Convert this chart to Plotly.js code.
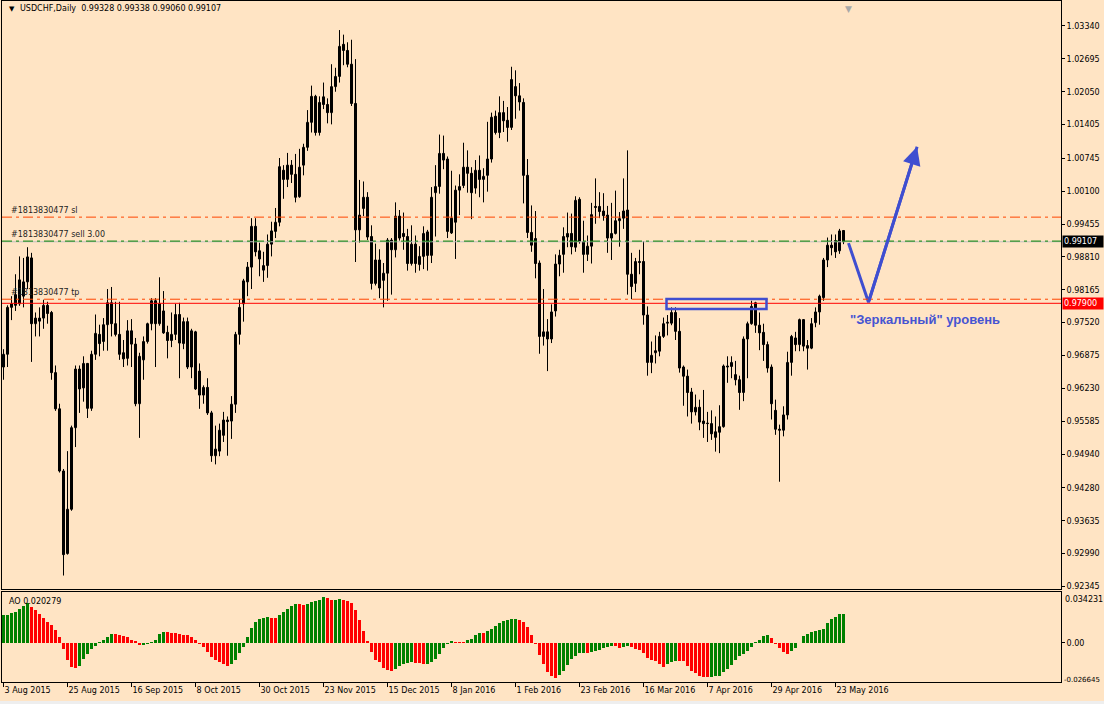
<!DOCTYPE html>
<html>
<head>
<meta charset="utf-8">
<script src="https://cdn.plot.ly/plotly-3.0.1.min.js"></script>
<style>
html,body{margin:0;padding:0;background:#EEEEEE;}
#chart{width:1104px;height:701px;}
</style>
</head>
<body>
<div id="chart"></div>
<script>
// ---------- data ----------
const dateLabels = ["3 Aug 2015","25 Aug 2015","16 Sep 2015","8 Oct 2015","30 Oct 2015","23 Nov 2015","15 Dec 2015","8 Jan 2016","1 Feb 2016","23 Feb 2016","16 Mar 2016","7 Apr 2016","29 Apr 2016","23 May 2016"];
const dateTickBars = [0,16,32,48,64,80,96,112,128,144,160,176,192,208];

const openP = [0.9665,0.9690,0.9782,0.9786,0.9789,0.9804,0.9832,0.9879,0.9750,0.9761,
0.9761,0.9786,0.9772,0.9654,0.9583,0.9461,0.9299,0.9386,0.9546,0.9661,
0.9624,0.9672,0.9584,0.9690,0.9729,0.9715,0.9748,0.9791,0.9750,0.9729,
0.9693,0.9682,0.9736,0.9710,0.9593,0.9679,0.9715,0.9750,0.9795,0.9750,
0.9775,0.9733,0.9717,0.9729,0.9768,0.9711,0.9754,0.9665,0.9734,0.9657,
0.9610,0.9625,0.9575,0.9491,0.9500,0.9531,0.9561,0.9559,0.9592,0.9729,
0.9789,0.9832,0.9861,0.9941,0.9893,0.9855,0.9864,0.9906,0.9931,0.9949,
1.0051,1.0033,1.0061,1.0043,0.9999,1.0061,1.0096,1.0145,1.0196,1.0125,
1.0195,1.0180,1.0164,1.0215,1.0235,1.0298,1.0286,1.0259,1.0182,0.9934,
0.9976,0.9998,0.9921,0.9829,0.9875,0.9835,0.9849,0.9914,0.9895,0.9961,
0.9927,0.9921,0.9868,0.9906,0.9866,0.9882,0.9930,0.9884,1.0007,1.0019,
1.0084,1.0073,0.9928,0.9949,1.0012,1.0021,1.0057,1.0045,1.0016,1.0051,
1.0033,1.0041,1.0073,1.0157,1.0125,1.0164,1.0149,1.0135,1.0215,1.0197,
1.0184,1.0041,0.9929,0.9917,0.9869,0.9725,0.9734,0.9720,0.9775,0.9867,
0.9886,0.9920,0.9927,0.9900,0.9994,0.9911,0.9886,0.9902,0.9980,0.9980,
0.9971,0.9963,0.9918,0.9927,0.9952,0.9957,0.9973,0.9847,0.9829,0.9872,
0.9872,0.9767,0.9674,0.9693,0.9696,0.9725,0.9751,0.9751,0.9772,0.9735,
0.9665,0.9647,0.9616,0.9577,0.9586,0.9559,0.9555,0.9554,0.9527,0.9537,
0.9548,0.9665,0.9666,0.9650,0.9640,0.9615,0.9720,0.9750,0.9791,0.9747,
0.9733,0.9709,0.9665,0.9580,0.9543,0.9541,0.9571,0.9674,0.9722,0.9709,
0.9758,0.9707,0.9702,0.9752,0.9773,0.9801,0.9875,0.9904,0.9913,0.9893,
0.99328];
const highP = [0.9700,0.9786,0.9804,0.9847,0.9882,0.9879,0.9900,0.9889,0.9772,0.9782,
0.9797,0.9793,0.9775,0.9668,0.9593,0.9465,0.9500,0.9550,0.9668,0.9668,
0.9686,0.9673,0.9697,0.9768,0.9748,0.9761,0.9818,0.9822,0.9793,0.9793,
0.9718,0.9757,0.9759,0.9722,0.9693,0.9725,0.9752,0.9800,0.9800,0.9841,
0.9814,0.9746,0.9772,0.9789,0.9791,0.9762,0.9762,0.9740,0.9736,0.9672,
0.9629,0.9643,0.9579,0.9550,0.9554,0.9577,0.9568,0.9608,0.9734,0.9798,
0.9838,0.9871,0.9957,0.9957,0.9909,0.9891,0.9925,0.9950,0.9977,1.0075,
1.0061,1.0085,1.0071,1.0083,1.0093,1.0103,1.0169,1.0217,1.0199,1.0196,
1.0223,1.0192,1.0259,1.0252,1.0326,1.0317,1.0302,1.0307,1.0269,1.0032,
1.0029,1.0008,0.9943,0.9907,0.9896,0.9869,0.9918,0.9918,0.9988,0.9973,
0.9968,0.9936,0.9943,0.9923,0.9902,0.9941,0.9934,1.0018,1.0061,1.0121,
1.0119,1.0078,1.0050,1.0021,1.0043,1.0105,1.0090,1.0057,1.0071,1.0080,
1.0055,1.0146,1.0164,1.0168,1.0196,1.0187,1.0175,1.0254,1.0247,1.0222,
1.0192,1.0073,0.9982,0.9971,0.9874,0.9818,0.9759,0.9788,0.9886,0.9895,
0.9939,0.9968,0.9966,1.0000,0.9998,0.9952,0.9923,0.9987,1.0035,1.0008,
1.0006,0.9981,0.9987,1.0011,0.9969,1.0035,1.0090,0.9889,0.9879,0.9895,
0.9912,0.9784,0.9715,0.9727,0.9734,0.9762,0.9767,0.9782,0.9782,0.9761,
0.9668,0.9660,0.9624,0.9611,0.9601,0.9620,0.9577,0.9580,0.9568,0.9590,
0.9670,0.9686,0.9686,0.9677,0.9648,0.9725,0.9754,0.9795,0.9793,0.9772,
0.9750,0.9715,0.9670,0.9601,0.9552,0.9588,0.9695,0.9728,0.9734,0.9760,
0.9759,0.9718,0.9761,0.9782,0.9807,0.9879,0.9919,0.9925,0.9925,0.9936,
0.99338];
const lowP = [0.9640,0.9665,0.9757,0.9775,0.9785,0.9782,0.9818,0.9675,0.9725,0.9725,
0.9740,0.9750,0.9640,0.9579,0.9458,0.9256,0.9297,0.9383,0.9508,0.9575,
0.9597,0.9565,0.9579,0.9679,0.9686,0.9697,0.9697,0.9725,0.9725,0.9679,
0.9665,0.9668,0.9665,0.9588,0.9526,0.9640,0.9711,0.9737,0.9665,0.9746,
0.9730,0.9682,0.9704,0.9718,0.9643,0.9700,0.9661,0.9643,0.9620,0.9583,
0.9593,0.9571,0.9479,0.9474,0.9490,0.9518,0.9491,0.9524,0.9575,0.9709,
0.9754,0.9804,0.9818,0.9882,0.9843,0.9832,0.9840,0.9882,0.9918,0.9941,
0.9995,1.0018,1.0026,0.9988,0.9997,1.0041,1.0089,1.0125,1.0119,1.0119,
1.0171,1.0143,1.0141,1.0205,1.0223,1.0257,1.0253,1.0177,0.9871,0.9909,
0.9961,0.9914,0.9817,0.9825,0.9800,0.9782,0.9795,0.9807,0.9880,0.9913,
0.9895,0.9854,0.9864,0.9850,0.9854,0.9857,0.9854,0.9869,0.9921,1.0005,
1.0053,0.9918,0.9926,0.9877,0.9963,1.0016,1.0007,0.9955,1.0005,0.9998,
0.9988,1.0009,1.0066,1.0121,1.0114,1.0126,1.0107,1.0130,1.0152,1.0168,
0.9986,0.9918,0.9891,0.9839,0.9691,0.9707,0.9657,0.9712,0.9764,0.9843,
0.9850,0.9900,0.9886,0.9891,0.9907,0.9850,0.9873,0.9868,0.9946,0.9957,
0.9952,0.9889,0.9875,0.9925,0.9901,0.9936,0.9807,0.9798,0.9812,0.9847,
0.9748,0.9648,0.9653,0.9672,0.9686,0.9722,0.9727,0.9747,0.9718,0.9654,
0.9589,0.9568,0.9554,0.9570,0.9541,0.9526,0.9518,0.9522,0.9499,0.9496,
0.9546,0.9634,0.9643,0.9629,0.9581,0.9598,0.9643,0.9748,0.9732,0.9698,
0.9677,0.9654,0.9562,0.9532,0.9440,0.9529,0.9562,0.9648,0.9696,0.9696,
0.9696,0.9660,0.9700,0.9743,0.9748,0.9795,0.9861,0.9884,0.9879,0.9887,
0.99060];
const closeP = [0.9690,0.9782,0.9789,0.9807,0.9836,0.9832,0.9881,0.9750,0.9761,0.9755,
0.9786,0.9770,0.9654,0.9583,0.9461,0.9297,0.9386,0.9546,0.9661,0.9622,
0.9672,0.9584,0.9690,0.9731,0.9711,0.9748,0.9791,0.9750,0.9729,0.9690,
0.9681,0.9736,0.9710,0.9593,0.9686,0.9715,0.9750,0.9795,0.9750,0.9789,
0.9732,0.9717,0.9729,0.9768,0.9712,0.9754,0.9665,0.9736,0.9622,0.9610,
0.9625,0.9575,0.9491,0.9504,0.9541,0.9561,0.9558,0.9592,0.9729,0.9782,
0.9834,0.9861,0.9941,0.9891,0.9877,0.9864,0.9906,0.9932,0.9949,1.0058,
1.0033,1.0061,1.0043,0.9998,1.0057,1.0096,1.0145,1.0196,1.0125,1.0184,
1.0180,1.0164,1.0215,1.0235,1.0294,1.0286,1.0259,1.0182,0.9934,0.9963,
0.9998,0.9920,0.9829,0.9875,0.9820,0.9849,0.9914,0.9895,0.9961,0.9918,
0.9921,0.9868,0.9906,0.9868,0.9882,0.9927,0.9884,0.9998,1.0019,1.0084,
1.0071,0.9931,0.9957,1.0012,1.0019,1.0057,1.0045,1.0007,1.0051,1.0033,
1.0039,1.0073,1.0155,1.0125,1.0164,1.0148,1.0135,1.0229,1.0197,1.0185,
1.0041,0.9929,0.9904,0.9868,0.9725,0.9734,0.9720,0.9773,0.9867,0.9884,
0.9921,0.9927,0.9901,0.9992,0.9911,0.9886,0.9902,0.9964,0.9978,0.9970,
0.9962,0.9918,0.9927,0.9952,0.9956,0.9971,0.9847,0.9823,0.9872,0.9870,
0.9767,0.9674,0.9688,0.9697,0.9725,0.9750,0.9753,0.9772,0.9735,0.9663,
0.9647,0.9615,0.9577,0.9586,0.9557,0.9554,0.9554,0.9534,0.9538,0.9548,
0.9667,0.9667,0.9674,0.9640,0.9615,0.9720,0.9750,0.9784,0.9747,0.9732,
0.9709,0.9663,0.9593,0.9543,0.9541,0.9571,0.9674,0.9725,0.9709,0.9758,
0.9706,0.9702,0.9750,0.9773,0.9804,0.9875,0.9904,0.9899,0.9891,0.9932,
0.99107];

const aoValues = [0.01981,0.01981,0.02097,0.02167,0.02377,0.02563,0.02796,0.02516,0.0233,0.02027,
0.01748,0.01468,0.01235,0.00885,0.00396,-0.00396,-0.01165,-0.01678,-0.01748,-0.01584,
-0.01118,-0.00746,-0.00419,-0.00186,0.0007,0.00186,0.00396,0.00629,0.00606,0.00583,
0.00513,0.00396,0.00233,0.00163,-0.00163,-0.0014,-0.0007,0.00047,0.00186,0.00629,
0.00769,0.00746,0.00722,0.00699,0.00629,0.00583,0.00536,0.00396,0.00233,-0.00047,
-0.00303,-0.00629,-0.00979,-0.01212,-0.01328,-0.01468,-0.01584,-0.01468,-0.01165,-0.00699,
-0.0028,0.00419,0.01049,0.01468,0.01678,0.01748,0.01794,0.01771,0.01748,0.01934,
0.02167,0.02377,0.0261,0.02726,0.02703,0.0268,0.02749,0.02843,0.02913,0.03029,
0.03215,0.03146,0.03006,0.03029,0.03052,0.03006,0.02959,0.02796,0.0233,0.01584,
0.00862,0.00117,-0.00629,-0.01165,-0.01328,-0.01748,-0.01911,-0.01934,-0.01794,-0.01631,
-0.01468,-0.01398,-0.01328,-0.01375,-0.01421,-0.01491,-0.01445,-0.01328,-0.01095,-0.00746,
-0.0035,-0.0007,0.00117,0.00093,0.0007,0.00047,0.00186,0.0028,0.00536,0.00699,
0.00676,0.00816,0.01002,0.01165,0.01398,0.01561,0.01631,0.01678,0.01701,0.01584,
0.01445,0.01118,0.00536,-0.00047,-0.00816,-0.01468,-0.02027,-0.0233,-0.02447,-0.0226,
-0.01981,-0.01515,-0.01118,-0.00885,-0.00699,-0.00676,-0.00699,-0.00652,-0.00583,-0.00466,
-0.0035,-0.0028,-0.00186,-0.0021,-0.0035,-0.0028,-0.00233,-0.00303,-0.00419,-0.00513,
-0.00699,-0.01049,-0.01165,-0.01282,-0.01468,-0.01678,-0.01468,-0.01328,-0.01235,-0.01258,
-0.01282,-0.01631,-0.01934,-0.02097,-0.0233,-0.02377,-0.024,-0.02353,-0.0233,-0.02283,
-0.0205,-0.01817,-0.01515,-0.01165,-0.00885,-0.00746,-0.00536,-0.0028,0.0007,0.00233,
0.00466,0.00536,0.0035,-0.00047,-0.0035,-0.00652,-0.00746,-0.00583,-0.0035,0.00023,
0.00466,0.00652,0.00792,0.00816,0.00885,0.01002,0.01398,0.01678,0.01817,0.02004,
0.020279];

const priceTicks = [1.03340,1.02695,1.02050,1.01405,1.00745,1.00100,0.99455,0.98810,0.98165,0.97520,0.96875,0.96230,0.95585,0.94940,0.94280,0.93635,0.92990,0.92345];
const aoTickLabels = ["0.034231","0.00","-0.026645"];
const aoTickValues = [0.034231,0,-0.026645];

const orderId = "#1813830477";
const slPrice = 0.9959, entryPrice = 0.9912, tpPrice = 0.9798, levelPrice = 0.97900, bidPrice = 0.99107;
// user drawings (bar index, price)
const boxBars = [165.75, 190.75], boxPrices = [0.97985, 0.97789];
const arrowBars = [211.25, 216.25, 228.4], arrowPrices = [0.9908, 0.9792, 1.0097];
const mirrorText = "\"Зеркальный\" уровень";
const header = "USDCHF,Daily  0.99328 0.99338 0.99060 0.99107";

// ---------- chart ----------
const BG = '#FFE4C4';
const FONT = 'DejaVu Sans';
const bars = openP.map((_, i) => i);
const aoColors = aoValues.map((v, i) => (i === 0 || v >= aoValues[i - 1]) ? '#008000' : '#FF0000');
const blue = '#3F4ED0';

// wicks: built from high/low arrays
const wickX = [], wickY = [];
bars.forEach(i => { wickX.push(i, i, null); wickY.push(lowP[i], highP[i], null); });
const bodyBase = bars.map(i => Math.min(openP[i], closeP[i]));
const bodyLen = bars.map(i => Math.max(Math.abs(closeP[i] - openP[i]), 0.00003));
const bodyFill = bars.map(i => closeP[i] >= openP[i] ? BG : '#000000');

const traces = [
  {
    type: 'scatter', mode: 'lines', x: wickX, y: wickY, xaxis: 'x', yaxis: 'y',
    line: {color: '#000000', width: 1}, hoverinfo: 'skip', showlegend: false, connectgaps: false
  },
  {
    type: 'bar', x: bars, y: bodyLen, base: bodyBase, xaxis: 'x', yaxis: 'y', width: 0.5,
    marker: {color: bodyFill, line: {color: '#000000', width: 1}}, hoverinfo: 'skip', showlegend: false
  },
  {
    type: 'scatter', mode: 'lines', x: arrowBars, y: arrowPrices, xaxis: 'x', yaxis: 'y',
    line: {color: blue, width: 3}, hoverinfo: 'skip', showlegend: false
  },
  {
    type: 'bar', x: bars, y: aoValues, xaxis: 'x2', yaxis: 'y2', width: 0.75,
    marker: {color: aoColors, line: {width: 0}}, hoverinfo: 'skip', showlegend: false
  }
];

const xr = [-0.375, 264.375];
const hline = (p, color, dash, width) => ({type: 'line', xref: 'paper', x0: 0, x1: 1, yref: 'y', y0: p, y1: p,
  line: {color: color, width: width || 1, dash: dash || 'solid'}, layer: 'above'});

const dashDot = '10px,4px,3px,4px';
const layout = {
  width: 1104, height: 701,
  margin: {l: 2, r: 43, t: 1, b: 19},
  paper_bgcolor: BG, plot_bgcolor: BG,
  font: {family: FONT, size: 8, color: '#000000'},
  showlegend: false, bargap: 0, barmode: 'overlay',
  xaxis: {domain: [0, 1], range: xr, anchor: 'y', showgrid: false, zeroline: false,
    showticklabels: false, ticks: '', showline: true, mirror: true, linecolor: '#000', linewidth: 1,
    fixedrange: true},
  yaxis: {domain: [0.1366, 1], range: [0.92296, 1.0383], side: 'right', showgrid: false, zeroline: false,
    tickvals: priceTicks, ticktext: priceTicks.map(v => v.toFixed(5)), ticks: 'outside', ticklen: 3,
    tickcolor: '#000', showline: true, mirror: true, linecolor: '#000', linewidth: 1,
    tickfont: {family: FONT, size: 8, color: '#000'}, fixedrange: true},
  xaxis2: {domain: [0, 1], range: xr, anchor: 'y2', showgrid: false, zeroline: false,
    tickvals: dateTickBars, ticktext: dateLabels, ticks: 'outside', ticklen: 4, tickcolor: '#000',
    ticklabelposition: 'outside right', showline: true, mirror: true, linecolor: '#000', linewidth: 1,
    tickfont: {family: FONT, size: 8, color: '#000'}, fixedrange: true},
  yaxis2: {domain: [0, 0.1322], range: [-0.02726, 0.03565], side: 'right', anchor: 'x2',
    showgrid: false, zeroline: false, tickvals: [0], ticktext: [aoTickLabels[1]], ticks: 'outside',
    ticklen: 3, tickcolor: '#000', showline: true, mirror: true, linecolor: '#000', linewidth: 1,
    tickfont: {family: FONT, size: 8, color: '#000'}, fixedrange: true},
  shapes: [
    hline(slPrice, '#FF4500', dashDot),
    hline(bidPrice, '#C0C0C0'),
    hline(entryPrice, '#008000', dashDot),
    hline(tpPrice, '#FF4500', dashDot),
    hline(levelPrice, '#FF0000'),
    {type: 'rect', xref: 'x', yref: 'y', x0: boxBars[0], x1: boxBars[1], y0: boxPrices[1], y1: boxPrices[0],
      line: {color: blue, width: 2.5}, fillcolor: 'rgba(0,0,0,0)', layer: 'above'}
  ],
  annotations: [
    {xref: 'paper', yref: 'paper', x: 0.0047, y: 0.9883, xanchor: 'left', yanchor: 'middle',
      text: '▼', showarrow: false, font: {family: FONT, size: 7, color: '#000'}},
    {xref: 'paper', yref: 'paper', x: 0.0151, y: 0.9883, xanchor: 'left', yanchor: 'middle',
      text: header, showarrow: false, font: {family: FONT, size: 8, color: '#000'}},
    {xref: 'paper', yref: 'paper', x: 0.7989, y: 0.9985, xanchor: 'center', yanchor: 'top',
      text: '▼', showarrow: false, font: {family: FONT, size: 9, color: '#A8A8A8'}},
    {xref: 'paper', yref: 'y', x: 0.0066, y: slPrice, xanchor: 'left', yanchor: 'bottom', yshift: 0,
      text: orderId + ' sl', showarrow: false, font: {family: FONT, size: 8, color: '#1E1E1E'}},
    {xref: 'paper', yref: 'y', x: 0.0066, y: entryPrice, xanchor: 'left', yanchor: 'bottom', yshift: 0,
      text: orderId + ' sell 3.00', showarrow: false, font: {family: FONT, size: 8, color: '#1E1E1E'}},
    {xref: 'paper', yref: 'y', x: 0.0066, y: tpPrice, xanchor: 'left', yanchor: 'bottom', yshift: 0,
      text: orderId + ' tp', showarrow: false, font: {family: FONT, size: 8, color: '#1E1E1E'}},
    {xref: 'paper', yref: 'y', x: 1, y: bidPrice, xanchor: 'left', yanchor: 'middle', xshift: 1,
      text: bidPrice.toFixed(5), showarrow: false, bgcolor: '#000000', borderpad: 1, width: 38, align: 'left',
      font: {family: FONT, size: 8, color: '#FFFFFF'}},
    {xref: 'paper', yref: 'y', x: 1, y: levelPrice, xanchor: 'left', yanchor: 'middle', xshift: 1,
      text: levelPrice.toFixed(5), showarrow: false, bgcolor: '#FF0000', borderpad: 1, width: 38, align: 'left',
      font: {family: FONT, size: 8, color: '#FFFFFF'}},
    {xref: 'paper', yref: 'y2', x: 1, y: aoTickValues[0], xanchor: 'left', yanchor: 'middle', xshift: 2, yshift: -5,
      text: aoTickLabels[0], showarrow: false, font: {family: FONT, size: 8, color: '#000'}},
    {xref: 'paper', yref: 'y2', x: 1, y: aoTickValues[2], xanchor: 'left', yanchor: 'middle', xshift: 1, yshift: 1,
      text: aoTickLabels[2], showarrow: false, font: {family: FONT, size: 7, color: '#000'}},
    {xref: 'paper', yref: 'paper', x: 0.0047, y: 0.1175, xanchor: 'left', yanchor: 'middle',
      text: 'AO ' + aoValues[aoValues.length - 1].toFixed(6), showarrow: false, font: {family: FONT, size: 8, color: '#000'}},
    {xref: 'x', yref: 'y', x: arrowBars[2], y: arrowPrices[2], ax: arrowBars[1], ay: arrowPrices[1],
      axref: 'x', ayref: 'y', showarrow: true, arrowhead: 2, arrowsize: 1.2, arrowwidth: 3, arrowcolor: blue,
      text: '', standoff: 0},
    {xref: 'x', yref: 'y', x: 211, y: 0.97573, xanchor: 'left', yanchor: 'middle',
      text: mirrorText, showarrow: false,
      font: {family: 'Liberation Sans', size: 13, color: '#4654D2', weight: 'bold'}}
  ]
};

Plotly.newPlot('chart', traces, layout, {staticPlot: true, displayModeBar: false});
</script>
</body>
</html>
